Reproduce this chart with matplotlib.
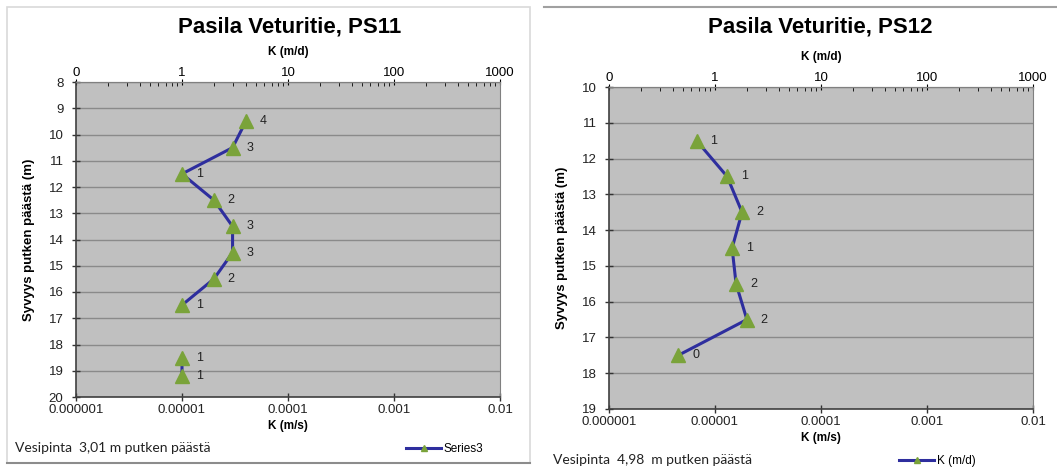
import numpy as np
import matplotlib
matplotlib.use("Agg")
from matplotlib import pyplot as plt
from matplotlib.patches import Rectangle
from matplotlib.lines import Line2D

plt.rcParams["font.family"] = ["Liberation Sans", "DejaVu Sans"]

# PS11
depth_11 = [9.5, 10.5, 11.5, 12.5, 13.5, 14.5, 15.5, 16.5, 17.5, 18.5, 19.2]
k_11 = [4e-5, 3e-5, 1e-5, 2e-5, 3e-5, 3e-5, 2e-5, 1e-5, np.nan, 1e-5, 1e-5]
labels_11 = ["4", "3", "1", "2", "3", "3", "2", "1", "", "1", "1"]

# PS12
depth_12 = [11.5, 12.5, 13.5, 14.5, 15.5, 16.5, 17.5]
k_12 = [6.7e-6, 1.3e-5, 1.8e-5, 1.45e-5, 1.58e-5, 2.0e-5, 4.5e-6]
labels_12 = ["1", "1", "2", "1", "2", "2", "0"]

top_ticks = [0.1, 1, 10, 100, 1000]
top_labels = ["0", "1", "10", "100", "1000"]
bottom_ticks = [1e-6, 1e-5, 1e-4, 1e-3, 1e-2]
bottom_labels = ["0.000001", "0.00001", "0.0001", "0.001", "0.01"]

W, H = 1057, 471
fig = plt.figure(figsize=(W / 100, H / 100), dpi=100)


def px_axes(x0, y0, x1, y1):
    return fig.add_axes([x0 / W, 1 - y1 / H, (x1 - x0) / W, (y1 - y0) / H])


# panel frames
fig.patches.append(Rectangle((7 / W, 1 - 463 / H), 523 / W, 456 / H, transform=fig.transFigure,
                             fill=False, edgecolor="#d9d9d9", lw=1.2))
fig.lines.append(Line2D([7 / W, 530 / W], [1 - 463 / H, 1 - 463 / H], transform=fig.transFigure,
                        color="#8c8c8c", lw=1.5))
fig.lines.append(Line2D([544 / W, 1.0], [1 - 7 / H, 1 - 7 / H], transform=fig.transFigure,
                        color="#a0a0a0", lw=1.5))


def panel(ax, depth, k, labels, ylim, title, note, legend_label, cx, note_x, note_y, leg_x, leg_y):
    ax.set_facecolor("#c0c0c0")
    ax.set_xscale("log")
    ax.set_xlim(1e-6, 1e-2)
    ax.set_ylim(ylim[1], ylim[0])
    ax.set_yticks(np.arange(ylim[0], ylim[1] + 1))
    ax.grid(axis="y", color="#8a8a8a", lw=1)
    ax.set_axisbelow(True)
    ax.set_xticks(bottom_ticks)
    ax.set_xticklabels(bottom_labels)
    ax.xaxis.set_minor_locator(plt.NullLocator())
    ax.tick_params(axis="both", direction="inout", length=6, width=1, labelsize=9.5, colors="#333333",
                   labelcolor="#222222")
    ax.tick_params(axis="x", pad=2)
    ax.tick_params(axis="y", pad=6)
    for s in ["top", "right"]:
        ax.spines[s].set_color("#808080")
    for s in ["left", "bottom"]:
        ax.spines[s].set_color("#404040")
        ax.spines[s].set_linewidth(1.2)
    ax.plot(k, depth, color="#2e2e9e", lw=2.2, marker="^", markersize=10,
            markerfacecolor="#7aa33a", markeredgecolor="#7aa33a", label=legend_label)
    for xv, yv, t in zip(k, depth, labels):
        if t:
            ax.annotate(t, (xv, yv), xytext=(10, 0), textcoords="offset points",
                        ha="left", va="center", fontsize=9, color="#222222")
    ax.set_xlabel("K (m/s)", fontsize=8.5, fontweight="bold", labelpad=3)
    ax.set_ylabel("Syvyys putken päästä (m)", fontsize=9.5, fontweight="bold", labelpad=10)

    top = ax.secondary_xaxis("top", functions=(lambda x: x * 1e5, lambda x: x / 1e5))
    top.set_xticks(top_ticks)
    top.set_xticklabels(top_labels)
    top.tick_params(axis="x", which="major", direction="inout", length=5, labelsize=9.5, pad=0)
    top.tick_params(axis="x", which="minor", direction="in", length=3)
    top.spines["top"].set_color("#808080")
    top.set_xlabel("K (m/d)", fontsize=8.5, fontweight="bold", labelpad=8)

    fig.text(cx / W, 1 - 27 / H, title, ha="center", va="center", fontsize=16, fontweight="bold")
    fig.text(note_x / W, 1 - note_y / H, note, ha="left", va="center", fontsize=10,
             family=["Lato", "DejaVu Sans"], color="#222222")
    ax.legend(loc="center left", bbox_to_anchor=(leg_x / W, 1 - leg_y / H), bbox_transform=fig.transFigure,
              frameon=False, fontsize=8.5, handlelength=3, markerscale=0.5, borderpad=0, handletextpad=0.2)


ax1 = px_axes(76, 82, 500, 397)
panel(ax1, depth_11, k_11, labels_11, (8, 20), "Pasila Veturitie, PS11",
      "Vesipinta  3,01 m putken päästä", "Series3", 290, 15, 448, 400, 449)

ax2 = px_axes(609, 87, 1033, 409)
panel(ax2, depth_12, k_12, labels_12, (10, 19), "Pasila Veturitie, PS12",
      "Vesipinta  4,98  m putken päästä", "K (m/d)", 820, 553, 460, 893, 461)

fig.savefig("out.png", dpi=100)
